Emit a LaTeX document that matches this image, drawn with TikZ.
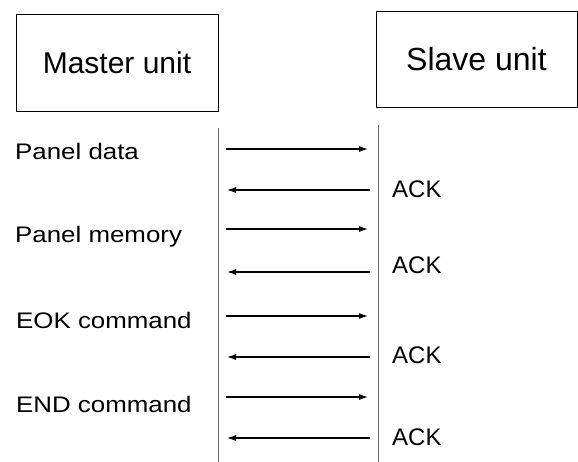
\documentclass[tikz,border=0pt]{standalone}
\usepackage{fontspec}
\setmainfont{Liberation Sans}
\newfontfamily\lblfont[FakeStretch=1.15]{Liberation Sans}
\usetikzlibrary{arrows.meta}
\begin{document}
\begin{tikzpicture}[x=1pt,y=-1pt,
  unitbox/.style={draw,line width=0.9pt,inner sep=0pt},
  lbl/.style={anchor=base west,font=\lblfont\fontsize{22.5}{24}\selectfont,inner sep=0pt},
  ack/.style={anchor=base west,font=\fontsize{24}{26}\selectfont,inner sep=0pt},
  life/.style={draw=black!60,line width=0.6pt},
  msg/.style={line width=1.1pt,-{Latex[length=9pt,width=6pt]}}]
\useasboundingbox (0,0) rectangle (578,462);
\node[unitbox,minimum width=202pt,minimum height=97pt,font=\fontsize{30}{32}\selectfont] (master) at (117,62.5) {Master unit};
\node[unitbox,minimum width=201pt,minimum height=96pt,font=\fontsize{32}{34}\selectfont] (slave) at (476.5,59) {Slave unit};
\coordinate (lt) at (218,128); \coordinate (lb) at (218,462);
\coordinate (rt) at (378,125); \coordinate (rb) at (378,462);
\draw[life] (lt) -- (lb);
\draw[life] (rt) -- (rb);
\node[lbl] (l1) at (15,160) {Panel data};
\node[lbl] (l2) at (15,243) {Panel memory};
\node[lbl] (l3) at (16,328) {EOK command};
\node[lbl] (l4) at (16,412) {END command};
\node[ack] (a1) at (392,198) {ACK};
\node[ack] (a2) at (392,273) {ACK};
\node[ack] (a3) at (392,363) {ACK};
\node[ack] (a4) at (392,445) {ACK};
\foreach \i/\y in {1/149,2/229,3/316,4/397}{
  \coordinate (s\i) at (226,\y); \coordinate (e\i) at (368,\y);
  \draw[msg] (s\i) -- (e\i);}
\foreach \i/\y in {1/190,2/272,3/357,4/438}{
  \coordinate (rs\i) at (370,\y); \coordinate (re\i) at (227,\y);
  \draw[msg] (rs\i) -- (re\i);}
\end{tikzpicture}
\end{document}
